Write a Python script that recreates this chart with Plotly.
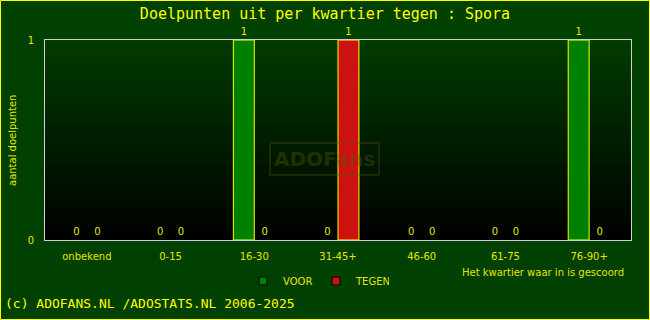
import plotly.graph_objects as go

categories = ["onbekend", "0-15", "16-30", "31-45+", "46-60", "61-75", "76-90+"]
voor = [0, 0, 1, 0, 0, 0, 1]
tegen = [0, 0, 0, 1, 0, 0, 0]
y_ticks = [0, 1]

W, H = 650, 320
ML, MR, MT, MB = 45, 19, 40, 80
PW, PH = W - ML - MR, H - MT - MB

def px_x(px):
    return (px - ML) / PW

def px_y(py):
    return (H - MB - py) / PH

YEL = "#ffff00"
TICK = "#e6e600"
BG = "#004000"

def bar(vals, name, color):
    return go.Bar(x=categories, y=vals, name=name,
                  marker=dict(color=color, line=dict(color=YEL, width=[1 if v > 0 else 0 for v in vals])),
                  text=vals, texttemplate="%{y}", textposition="outside", cliponaxis=False,
                  textfont=dict(color=TICK, size=10, family="DejaVu Sans"), showlegend=False)

fig = go.Figure()
fig.add_trace(bar(voor, "VOOR", "#008000"))
fig.add_trace(bar(tegen, "TEGEN", "#cc1111"))
# legend proxies
fig.add_trace(go.Scatter(x=[None], y=[None], mode="markers", name="VOOR",
                         marker=dict(symbol="square", size=8, color="#008000", line=dict(color="black", width=1))))
fig.add_trace(go.Scatter(x=[None], y=[None], mode="markers", name="TEGEN",
                         marker=dict(symbol="square", size=8, color="#cc1111", line=dict(color="black", width=1))))

shapes = []
N = 60
for i in range(N):
    g = int(round(60 * (1 - (i + 0.5) / N)))
    shapes.append(dict(type="rect", xref="x domain", yref="y domain", x0=0, x1=1,
                       y0=1 - (i + 1) / N, y1=1 - i / N + 0.002, layer="below",
                       fillcolor=f"rgb(0,{g},0)", line=dict(width=0)))
# outer yellow frame
shapes.append(dict(type="rect", xref="paper", yref="paper",
                   x0=px_x(0.5), x1=px_x(W - 0.5), y0=px_y(H - 0.5), y1=px_y(0.5),
                   line=dict(color=YEL, width=1), fillcolor="rgba(0,0,0,0)"))

annotations = [
    dict(text="ADOFans", xref="paper", yref="paper", x=px_x(324), y=px_y(159), xanchor="center", yanchor="middle",
         showarrow=False,
         font=dict(family="DejaVu Sans", size=20, color="rgba(90,90,0,0.40)", weight="bold"),
         bordercolor="rgba(90,90,0,0.30)", borderwidth=2, borderpad=3),
    dict(text="Het kwartier waar in is gescoord", xref="paper", yref="paper", x=px_x(543), y=px_y(272),
         xanchor="center", yanchor="middle",
         showarrow=False, font=dict(family="DejaVu Sans", size=10, color=TICK)),
    dict(text="aantal doelpunten", xref="paper", yref="paper", x=px_x(12), y=px_y(141), textangle=-90,
         xanchor="center", yanchor="middle",
         showarrow=False, font=dict(family="DejaVu Sans", size=10, color=TICK)),
    dict(text="(c) ADOFANS.NL /ADOSTATS.NL 2006-2025", xref="paper", yref="paper", x=px_x(3), y=px_y(303),
         xanchor="left", yanchor="middle", showarrow=False,
         font=dict(family="DejaVu Sans Mono", size=13, color=YEL)),
]

fig.update_layout(
    width=W, height=H,
    margin=dict(l=ML, r=MR, t=MT, b=MB, pad=0),
    paper_bgcolor=BG, plot_bgcolor="black",
    barmode="group", bargap=0.5, bargroupgap=0,
    title=dict(text="Doelpunten uit per kwartier tegen : Spora", x=0.5, xanchor="center", y=1 - 14 / H, yanchor="middle",
               font=dict(family="DejaVu Sans Mono", size=15, color=YEL)),
    xaxis=dict(showgrid=False, zeroline=False, showline=True, mirror=True, linecolor="#d0d0d0", linewidth=1,
               tickfont=dict(family="DejaVu Sans", size=10, color=TICK), ticks="", ticklabelstandoff=7),
    yaxis=dict(range=[0, 1], tickvals=y_ticks, showgrid=False, zeroline=False, showline=True, mirror=True,
               linecolor="#d0d0d0", linewidth=1, ticks="", ticklabelstandoff=8,
               tickfont=dict(family="DejaVu Sans", size=10, color=TICK)),
    legend=dict(orientation="h", x=px_x(243), y=px_y(281), xanchor="left", yanchor="middle",
                font=dict(family="DejaVu Sans", size=10, color=TICK), bgcolor="rgba(0,0,0,0)",
                itemwidth=30, tracegroupgap=0, entrywidth=28, entrywidthmode="pixels"),
    shapes=shapes, annotations=annotations,
    showlegend=True,
)

fig.write_html("out.html")
